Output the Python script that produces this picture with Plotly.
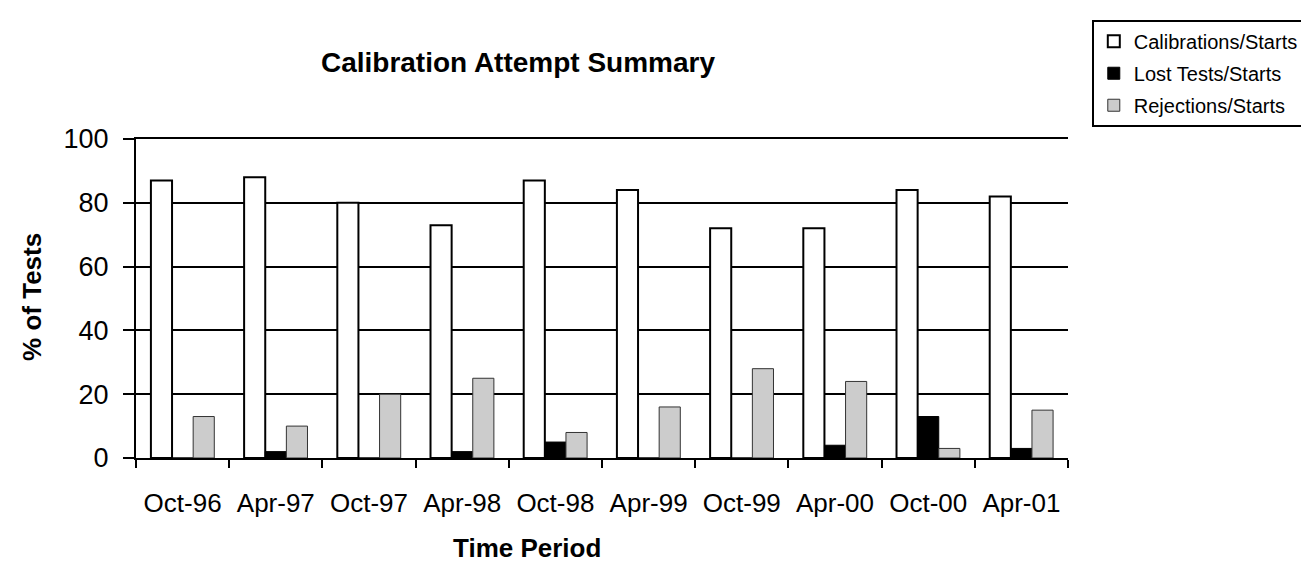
import plotly.graph_objects as go

categories = ["Oct-96", "Apr-97", "Oct-97", "Apr-98", "Oct-98",
              "Apr-99", "Oct-99", "Apr-00", "Oct-00", "Apr-01"]
calibrations = [87, 88, 80, 73, 87, 84, 72, 72, 84, 82]
lost_tests = [0, 2, 0, 2, 5, 0, 0, 4, 13, 3]
rejections = [13, 10, 20, 25, 8, 16, 28, 24, 3, 15]
y_ticks = [0, 20, 40, 60, 80, 100]

FONT = "Arial, Liberation Sans, sans-serif"

fig = go.Figure()
fig.add_trace(go.Bar(x=categories, y=calibrations, name="Calibrations/Starts",
                     marker=dict(color="white", line=dict(color="black", width=2)),
                     legendgroup="a"))
fig.add_trace(go.Bar(x=categories, y=lost_tests, name="Lost Tests/Starts",
                     marker=dict(color="black", line=dict(color="black", width=1)),
                     legendgroup="b"))
fig.add_trace(go.Bar(x=categories, y=rejections, name="Rejections/Starts",
                     marker=dict(color="#cccccc", line=dict(color="#333333", width=1)),
                     legendgroup="c"))

fig.update_layout(
    width=1309, height=563,
    margin=dict(l=128, r=241, t=129, b=113),
    paper_bgcolor="white", plot_bgcolor="white",
    font=dict(family=FONT, color="black"),
    barmode="group", bargap=0.32, bargroupgap=0,
    showlegend=True,
    legend=dict(x=(1092 - 128) / 940, y=(450 - 9) / 321, xanchor="left", yanchor="top",
                bordercolor="black", borderwidth=2, bgcolor="white",
                font=dict(size=20, family=FONT), tracegroupgap=3,
                itemclick=False),
    title=dict(text="<b>Calibration Attempt Summary</b>", x=510 / 1309, xanchor="center",
               y=1 - 54 / 563, yanchor="middle", font=dict(size=28, family=FONT)),
)
fig.update_xaxes(
    showline=True, linecolor="black", linewidth=2, mirror=True,
    ticks="outside", tickson="boundaries", ticklen=8, tickwidth=2, tickcolor="black",
    tickfont=dict(size=26), ticklabelstandoff=21,
    showgrid=False,
)
fig.update_yaxes(
    range=[0, 100], tickvals=y_ticks,
    showline=True, linecolor="black", linewidth=2,
    ticks="outside", ticklen=11, tickwidth=2, tickcolor="black",
    tickfont=dict(size=27), ticklabelstandoff=9,
    showgrid=True, gridcolor="black", gridwidth=2, zeroline=False,
)
fig.add_annotation(text="<b>Time Period</b>", xref="paper", yref="paper",
                   x=(522 - 128) / 940, y=(450 - 541) / 321, showarrow=False,
                   xanchor="center", yanchor="middle", font=dict(size=26))
fig.add_annotation(text="<b>% of Tests</b>", xref="paper", yref="paper",
                   x=(23 - 128) / 940, y=(450 - 288) / 321, showarrow=False,
                   textangle=-90, xanchor="center", yanchor="middle", font=dict(size=26))

fig.write_html("out.html")
